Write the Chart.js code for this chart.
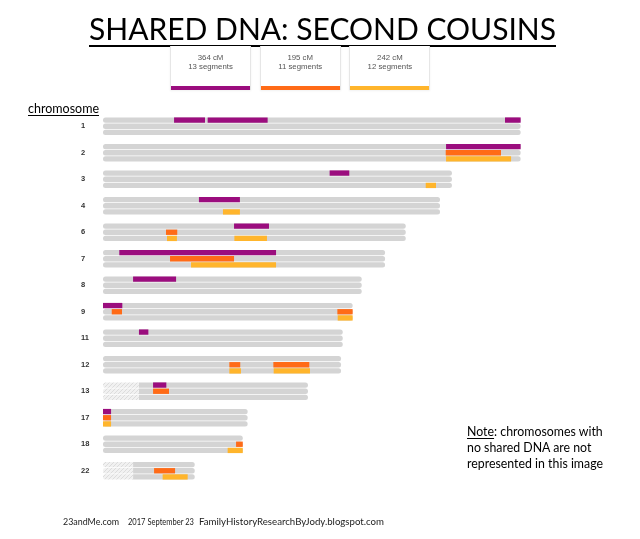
<!DOCTYPE html>
<html>
<head>
<meta charset="utf-8">
<script src="https://cdn.jsdelivr.net/npm/chart.js@4/dist/chart.umd.min.js"></script>
<style>
html,body{margin:0;padding:0;background:#fff;}
#wrap{position:relative;width:640px;height:539px;overflow:hidden;background:#fff;}
#chart{position:absolute;left:0;top:0;}
.t{position:absolute;white-space:pre;transform-origin:0 0;color:#000;}
#title{font-family:Lato,"Open Sans",sans-serif;font-size:30px;line-height:30px;left:89px;top:13.4px;
  text-decoration:underline;text-decoration-thickness:2px;text-underline-offset:5px;}
#chromlabel{font-family:Lato,sans-serif;font-size:13px;line-height:13px;left:28.3px;top:102px;
  text-decoration:underline;text-decoration-thickness:1px;text-underline-offset:2px;}
#note{font-family:Lato,sans-serif;font-size:13px;line-height:16px;left:467.3px;top:423.3px;}
#note u{text-decoration-thickness:1px;text-underline-offset:2px;}
.foot{font-family:Lato,sans-serif;font-size:9.5px;line-height:10px;top:516.6px;color:#222;}
.lbox{position:absolute;top:46px;width:79px;height:44px;border-left:1px solid #e6e6e6;border-right:1px solid #e6e6e6;
  box-shadow:0 1px 2px rgba(0,0,0,0.06);background:#fff;}
.lbox .txt{position:absolute;left:0;right:0;top:8.3px;text-align:center;font-family:"Liberation Sans",Arial,sans-serif;
  font-size:7.8px;line-height:8.6px;color:#555;}
.lbox .bar{position:absolute;left:0;right:0;top:39.7px;height:4px;}
</style>
</head>
<body>
<div id="wrap">
  <canvas id="chart" width="640" height="539"></canvas>
  <div id="title" class="t fit" data-w="467">SHARED DNA: SECOND COUSINS</div>
  <div id="legend"></div>
  <div id="chromlabel" class="t fit" data-w="71">chromosome</div>
  <div id="note" class="t fit" data-w="136"><u>Note</u>: chromosomes with
no shared DNA are not
represented in this image</div>
  <div class="t foot fit" style="left:63.3px" data-w="56">23andMe.com</div>
  <div class="t foot fit" style="left:128.3px" data-w="66">2017 September 23</div>
  <div class="t foot fit" style="left:199.3px" data-w="185">FamilyHistoryResearchByJody.blogspot.com</div>
</div>
<script>
// ---------------- DATA ----------------
const chromosomes = ['1','2','3','4','6','7','8','9','11','12','13','17','18','22'];
// drawn chromosome lengths (approx. Mb)
const chromLength = [248.6, 248.6, 207.7, 200.6, 180.2, 167.9, 154.0, 148.6, 142.7, 141.7, 122.0, 86.1, 83.2, 54.6];
// unmeasured (hatched) start region of acrocentric chromosomes
const unreadRegion = [0, 0, 0, 0, 0, 0, 0, 0, 0, 0, 21.3, 0, 0, 17.9];

const cousinCM = [364, 195, 242];
const cousinSegmentCount = [13, 11, 12];

// shared segments: [chromosome, start, end]
const cousin1Segments = [
  ['1', 42.3, 60.7], ['1', 62.3, 98.0], ['1', 239.3, 248.6],
  ['2', 204.2, 248.6], ['3', 134.9, 146.6], ['4', 57.1, 81.5],
  ['6', 78.0, 98.8], ['7', 9.7, 103.0], ['8', 17.9, 43.5],
  ['9', 0, 11.5], ['11', 21.4, 27.0], ['13', 29.8, 37.7], ['17', 0, 4.8]
];
const cousin2Segments = [
  ['2', 204.0, 236.9], ['6', 37.5, 44.2], ['7', 39.9, 78.0],
  ['9', 5.2, 11.3], ['9', 139.5, 148.6], ['12', 75.2, 81.7], ['12', 101.4, 122.8],
  ['13', 29.8, 39.3], ['17', 0, 4.8], ['18', 79.2, 83.2], ['22', 30.4, 42.9]
];
const cousin3Segments = [
  ['2', 204.2, 242.9], ['3', 192.1, 198.2], ['4', 71.4, 81.5],
  ['6', 38.1, 44.0], ['6', 78.2, 97.6], ['7', 52.4, 103.0], ['9', 139.7, 148.6],
  ['12', 75.2, 82.1], ['12', 101.6, 123.2], ['17', 0, 4.8], ['18', 74.2, 83.2], ['22', 35.5, 50.4]
];

// ---------------- STYLE ----------------
const cousinColors = ['#9b0d7e', '#ff6b17', '#ffb52c'];
const greyColor = '#d4d4d4';

// ---------------- BUILD ----------------
const allSegments = [cousin1Segments, cousin2Segments, cousin3Segments];

function hatchPattern() {
  const c = document.createElement('canvas');
  c.width = 4; c.height = 4;
  const g = c.getContext('2d');
  g.fillStyle = '#f1f1f1'; g.fillRect(0, 0, 4, 4);
  g.strokeStyle = '#dcdcdc'; g.lineWidth = 1;
  g.beginPath(); g.moveTo(0, 4); g.lineTo(4, 0); g.stroke();
  return g.createPattern(c, 'repeat');
}
const hatch = hatchPattern();

const datasets = [];
allSegments.forEach((segs, c) => {
  const byChrom = chromosomes.map(ch => segs.filter(s => s[0] === ch));
  const maxK = Math.max(...byChrom.map(a => a.length));
  for (let k = 0; k < maxK; k++) {
    datasets.push({
      label: 'cousin ' + (c + 1) + ' segment',
      data: byChrom.map(a => a[k] ? [a[k][1], a[k][2]] : null),
      backgroundColor: cousinColors[c],
      stack: 'c' + c, order: 0, borderSkipped: false, borderRadius: 0
    });
  }
});
for (let c = 0; c < 3; c++) {
  datasets.push({
    label: 'unread ' + c,
    data: unreadRegion.map(u => u > 0 ? [0, u] : null),
    backgroundColor: hatch,
    stack: 'c' + c, order: 1, borderSkipped: false,
    borderRadius: {topLeft: 2.5, bottomLeft: 2.5, topRight: 0, bottomRight: 0}
  });
  datasets.push({
    label: 'chromosome ' + c,
    data: chromLength.map((L, i) => [unreadRegion[i], L]),
    backgroundColor: greyColor,
    stack: 'c' + c, order: 2, borderSkipped: false,
    borderRadius: (ctx) => unreadRegion[ctx.dataIndex] > 0
      ? {topLeft: 0, bottomLeft: 0, topRight: 2.5, bottomRight: 2.5} : 2.5
  });
}

new Chart(document.getElementById('chart'), {
  type: 'bar',
  data: { labels: chromosomes, datasets },
  options: {
    responsive: false, animation: false, indexAxis: 'y',
    categoryPercentage: 0.70, barPercentage: 0.86,
    layout: { padding: { left: 81, right: 33, top: 113, bottom: 55 } },
    plugins: { legend: { display: false }, tooltip: { enabled: false } },
    scales: {
      x: { type: 'linear', min: 0, max: 300, display: false, stacked: false },
      y: {
        type: 'category', offset: true,
        grid: { display: false }, border: { display: false },
        afterFit: (s) => { s.width = 22; },
        ticks: { crossAlign: 'far', autoSkip: false, color: '#333',
          font: { family: '"Liberation Sans", Arial, sans-serif', size: 7.5, weight: 'bold' } }
      }
    }
  }
});

// legend boxes
const legend = document.getElementById('legend');
cousinCM.forEach((cm, i) => {
  const b = document.createElement('div');
  b.className = 'lbox';
  b.style.left = (170 + i * 89.7) + 'px';
  b.innerHTML = '<div class="txt">' + cm + ' cM<br>' + cousinSegmentCount[i] + ' segments</div>' +
    '<div class="bar" style="background:' + cousinColors[i] + '"></div>';
  legend.appendChild(b);
});

// fit text widths
document.querySelectorAll('.fit').forEach(el => {
  const w = el.getBoundingClientRect().width;
  const target = parseFloat(el.dataset.w);
  if (w > 0) el.style.transform = 'scaleX(' + (target / w) + ')';
});
</script>
</body>
</html>
